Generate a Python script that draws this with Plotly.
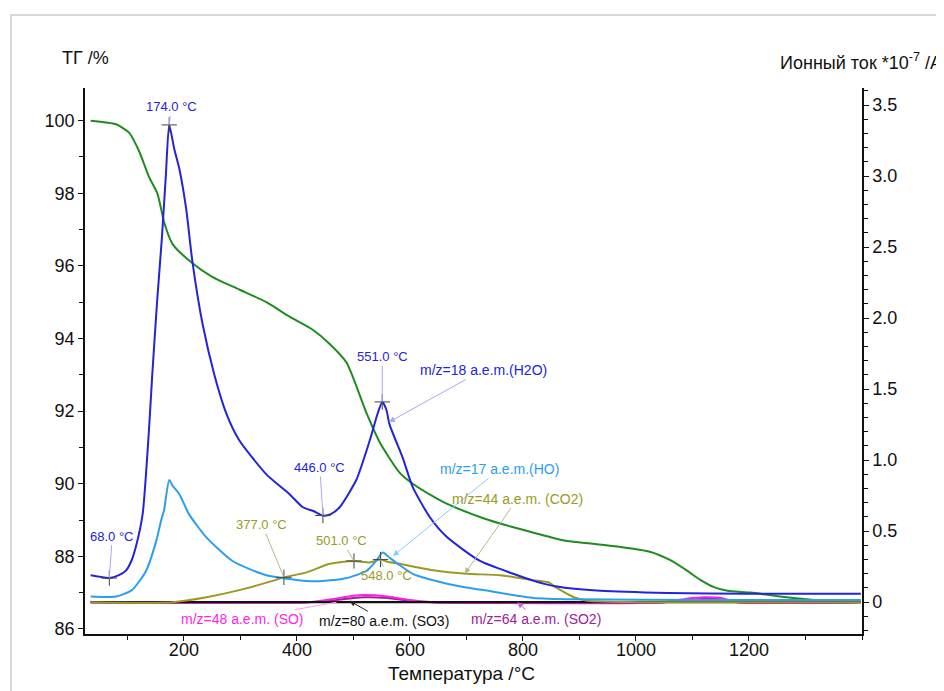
import numpy as np
import plotly.graph_objects as go

# ---------------- data ----------------
T_tg = [35, 80, 103, 121, 138, 153, 160, 165, 180, 213, 250, 298, 346, 387, 428, 458, 488, 523, 547, 582, 605, 641, 665, 730, 783, 819, 878, 920, 967, 1026, 1060, 1091, 1114, 1138, 1162, 1203, 1251, 1315, 1398]
tg = [100.0, 99.9, 99.67, 99.15, 98.46, 98.0, 97.55, 97.2, 96.6, 96.1, 95.7, 95.35, 95.0, 94.6, 94.24, 93.85, 93.33, 91.95, 91.13, 90.3, 90.0, 89.65, 89.45, 89.05, 88.8, 88.65, 88.42, 88.35, 88.27, 88.12, 87.9, 87.6, 87.35, 87.15, 87.05, 87.0, 86.9, 86.8, 86.75]

T_h2o = [35, 50, 68, 85, 97, 107, 115, 127, 138, 144, 153, 161, 168, 174, 183, 192, 204, 215, 233, 254, 275, 298, 346, 387, 410, 430, 446, 460, 476, 505, 529, 543, 551, 558, 564, 587, 605, 635, 665, 724, 783, 819, 860, 937, 1056, 1200, 1398]
h2o = [0.19, 0.18, 0.17, 0.19, 0.22, 0.29, 0.39, 0.62, 1.2, 1.6, 2.14, 2.56, 3.0, 3.36, 3.19, 3.05, 2.77, 2.4, 1.96, 1.6, 1.33, 1.14, 0.9, 0.76, 0.67, 0.64, 0.61, 0.62, 0.67, 0.86, 1.14, 1.33, 1.41, 1.36, 1.25, 1.02, 0.81, 0.6, 0.46, 0.29, 0.2, 0.15, 0.11, 0.08, 0.065, 0.06, 0.06]

T_ho = [35, 80, 108, 133, 151, 160, 165, 174, 180, 192, 209, 239, 286, 346, 417, 446, 488, 523, 540, 552, 565, 582, 605, 641, 690, 730, 819, 900, 1100, 1398]
ho = [0.04, 0.04, 0.085, 0.22, 0.43, 0.58, 0.65, 0.86, 0.82, 0.76, 0.62, 0.46, 0.29, 0.19, 0.15, 0.15, 0.17, 0.22, 0.29, 0.35, 0.31, 0.26, 0.2, 0.155, 0.11, 0.085, 0.03, 0.02, 0.015, 0.015]

T_co2 = [35, 180, 240, 298, 357, 377, 417, 458, 501, 529, 548, 560, 582, 641, 700, 760, 819, 845, 860, 890, 914, 1000, 1398]
co2 = [0.0, 0.0, 0.035, 0.085, 0.15, 0.175, 0.21, 0.27, 0.29, 0.28, 0.30, 0.285, 0.27, 0.225, 0.2, 0.19, 0.155, 0.14, 0.1, 0.035, 0.01, 0.0, 0.0]

T_s = [35, 420, 460, 500, 520, 560, 600, 640, 1050, 1090, 1120, 1150, 1180, 1398]
so = [0.0, 0.0, 0.02, 0.045, 0.05, 0.04, 0.015, 0.0, 0.0, 0.025, 0.035, 0.03, 0.0, 0.0]
so2 = [0.0, 0.0, 0.01, 0.03, 0.035, 0.03, 0.01, 0.0, 0.0, 0.015, 0.025, 0.02, 0.0, 0.0]
so3 = [0.0, 0.0, 0.0, 0.0, 0.0, 0.0, 0.0, 0.0, 0.0, 0.0, 0.0, 0.0, 0.0, 0.0]

h2o_marks = [174, 68, 446, 551]
co2_marks = [377, 501, 548]

x_ticks = [200, 400, 600, 800, 1000, 1200]
y_ticks = [86, 88, 90, 92, 94, 96, 98, 100]
y2_ticks = [0, 0.5, 1.0, 1.5, 2.0, 2.5, 3.0, 3.5]
y2_text = ["0", "0.5", "1.0", "1.5", "2.0", "2.5", "3.0", "3.5"]

# ---------------- colours ----------------
C_TG = "#1e8c1e"
C_H2O = "#2323dc"
C_HO = "#2a9ff0"
C_CO2 = "#9a9a22"
C_SO = "#ff1ee6"
C_SO2 = "#a0209c"
C_SO3 = "#111111"
FONT = "Liberation Sans, Arial, sans-serif"

fig = go.Figure()

def line(x, y, color, axis, width=2):
    fig.add_trace(go.Scatter(x=x, y=y, mode="lines", yaxis=axis,
                             line=dict(color=color, width=width, shape="spline", smoothing=0.6),
                             hoverinfo="skip", showlegend=False))

line(T_s, so2, C_SO2, "y2", 2)
line(T_s, so, C_SO, "y2", 2)
line(T_s, so3, C_SO3, "y2", 2.2)
line(T_co2, co2, C_CO2, "y2", 2)
line(T_ho, ho, C_HO, "y2", 2)
line(T_h2o, h2o, C_H2O, "y2", 2)
line(T_tg, tg, C_TG, "y", 2)

# cross markers
hm_y = list(np.interp(h2o_marks, T_h2o, h2o))
cm_y = list(np.interp(co2_marks, T_co2, co2))
fig.add_trace(go.Scatter(x=h2o_marks + co2_marks, y=hm_y + cm_y, mode="markers", yaxis="y2",
                         marker=dict(symbol="cross-thin", size=11, line=dict(color="#444444", width=1)),
                         hoverinfo="skip", showlegend=False))

annotations = []

def ann(x, y, text, color, ax, ay, acolor, head=0, size=13):
    annotations.append(dict(x=x, y=y, xref="x", yref="y2", text=text, showarrow=True,
                            ax=ax, ay=ay, arrowhead=head, arrowsize=1.2, arrowwidth=1,
                            arrowcolor=acolor, standoff=0, startstandoff=0,
                            font=dict(family=FONT, size=size, color=color)))

for T, yv, ax, ay in zip(h2o_marks, hm_y, [2, 3, -3, 0], [-18, -42, -48, -45]):
    ann(T, yv, f"{T:.1f} °C", C_H2O, ax, ay, "#a8a8f0")
for T, yv, ax, ay in zip(co2_marks, cm_y, [-22, -12, 6], [-53, -20, 16]):
    ann(T, yv, f"{T:.1f} °C", C_CO2, ax, ay, "#b8b88a")

ann(563, float(np.interp(563, T_h2o, h2o)), "m/z=18 a.e.m.(H2O)", C_H2O, 94, -52, "#a8a8f0", 2, 14)
ann(570, float(np.interp(570, T_ho, ho)) + 0.03, "m/z=17 a.e.m.(HO)", C_HO, 107, -87, "#8ecbf5", 2, 14)
ann(697, float(np.interp(697, T_co2, co2)), "m/z=44 a.e.m. (CO2)", C_CO2, 53, -75, "#b8b88a", 2, 14)
ann(470, 0.0, "m/z=48 a.e.m. (SO)", C_SO, -94, 17, "#ff9af2", 0, 14)
ann(493, 0.01, "m/z=80 a.e.m. (SO3)", C_SO3, 35, 20, "#222222", 2, 14)
ann(790, 0.0, "m/z=64 a.e.m. (SO2)", C_SO2, 19, 17, "#c070c0", 2, 14)

# axis titles
annotations.append(dict(x=-0.032, y=1.055, xref="paper", yref="paper", text="ТГ /%",
                        showarrow=False, xanchor="left", yanchor="middle",
                        font=dict(family=FONT, size=18, color="#111111")))
annotations.append(dict(x=0.892, y=1.048, xref="paper", yref="paper",
                        text="Ионный ток *10<sup>-7</sup> /A",
                        showarrow=False, xanchor="left", yanchor="middle",
                        font=dict(family=FONT, size=18, color="#111111")))
annotations.append(dict(x=0.485, y=-0.072, xref="paper", yref="paper", text="Температура /°C",
                        showarrow=False, xanchor="center", yanchor="middle",
                        font=dict(family=FONT, size=19, color="#111111")))

axis_common = dict(showgrid=False, zeroline=False, showline=True, linecolor="#111111",
                   linewidth=1.5, ticks="outside", ticklen=5, tickcolor="#111111",
                   tickfont=dict(family=FONT, size=18, color="#111111"))

fig.update_layout(
    width=936, height=683,
    margin=dict(l=77, r=82, t=80, b=57),
    paper_bgcolor="white", plot_bgcolor="white",
    annotations=annotations,
    xaxis=dict(range=[25, 1400], tickvals=x_ticks, ticklabelstandoff=-6,
               minor=dict(dtick=100, tick0=0, ticks="outside", ticklen=4, tickcolor="#111111"),
               **axis_common),
    yaxis=dict(range=[85.86, 100.9], tickvals=y_ticks,
               minor=dict(dtick=1, tick0=0, ticks="outside", ticklen=4, tickcolor="#111111"),
               **axis_common),
    yaxis2=dict(range=[-0.224, 3.62], tickvals=y2_ticks, ticktext=y2_text,
                overlaying="y", side="right", anchor="x",
                minor=dict(dtick=0.1, tick0=0, ticks="outside", ticklen=4, tickcolor="#111111"),
                **axis_common),
    shapes=[dict(type="rect", xref="paper", yref="paper", x0=-0.0952, y0=-2, x1=3, y1=1.1337,
                 line=dict(color="#cccccc", width=1.5), fillcolor="rgba(0,0,0,0)", layer="below")],
)

fig.write_html("out.html")
